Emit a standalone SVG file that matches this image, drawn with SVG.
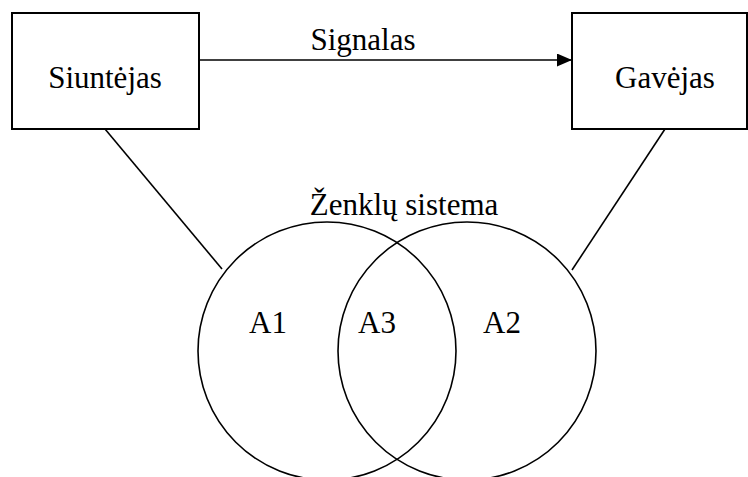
<svg xmlns="http://www.w3.org/2000/svg" width="748" height="477" viewBox="0 0 748 477">
  <style>
    .box { fill: #fff; stroke: #000; stroke-width: 2; }
    .ring { fill: none; stroke: #000; stroke-width: 1.6; }
    .edge { fill: none; stroke: #000; stroke-width: 1.6; }
    .lbl { font-family: 'Liberation Serif', 'Times New Roman', Times, 'DejaVu Serif', serif; font-size: 31px; fill: #000; }
  </style>
  <defs>
    <marker id="arrow" viewBox="0 0 15 13" refX="15" refY="6.5" markerWidth="15" markerHeight="13" markerUnits="userSpaceOnUse" orient="auto">
      <path d="M0,0 L15,6.5 L0,13 Z" fill="#000"/>
    </marker>
  </defs>
  <rect width="748" height="477" fill="#fff"/>

  <g id="connectors">
    <line class="edge" x1="199" y1="60" x2="572" y2="60" marker-end="url(#arrow)"/>
    <line class="edge" x1="105" y1="129" x2="222" y2="269"/>
    <line class="edge" x1="665" y1="129" x2="572" y2="270"/>
  </g>

  <g id="siuntejas">
    <rect class="box" x="12" y="13" width="187" height="116"/>
    <text class="lbl" x="105" y="88" text-anchor="middle" font-family="Liberation Serif, serif">Siuntėjas</text>
  </g>

  <g id="gavejas">
    <rect class="box" x="572" y="13" width="175" height="116"/>
    <text class="lbl" x="665" y="88" text-anchor="middle">Gavėjas</text>
  </g>

  <g id="signalas-label">
    <text class="lbl" x="363" y="50" text-anchor="middle">Signalas</text>
  </g>

  <g id="zenklu-sistema">
    <text class="lbl" x="404" y="215" text-anchor="middle">Ženklų sistema</text>
    <circle class="ring" cx="327" cy="351" r="129"/>
    <circle class="ring" cx="467" cy="351" r="129"/>
    <text class="lbl" x="268" y="333" text-anchor="middle">A1</text>
    <text class="lbl" x="377" y="333" text-anchor="middle">A3</text>
    <text class="lbl" x="502" y="333" text-anchor="middle">A2</text>
  </g>
</svg>
